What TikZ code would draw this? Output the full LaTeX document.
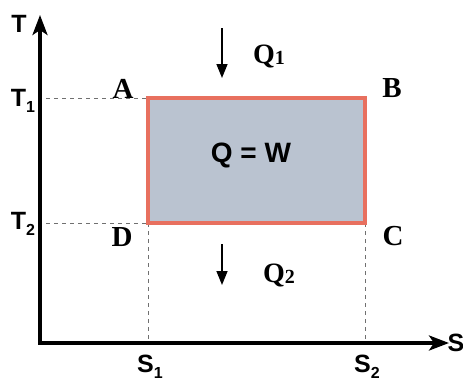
\documentclass[tikz,border=0pt]{standalone}
\usepackage{fontspec}
\setmainfont{Liberation Serif}
\setsansfont{Liberation Sans}
\usetikzlibrary{arrows.meta}
\definecolor{fillc}{HTML}{BAC3D0}
\definecolor{redc}{HTML}{E8705F}
\definecolor{dashc}{HTML}{707070}
\newcommand\mysub[3]{\raisebox{-#2}{\fontsize{#3}{#3}\selectfont #1}}
\begin{document}
\begin{tikzpicture}[x=1pt,y=-1pt,
  axis/.style={line width=3.4pt,black},
  guide/.style={dashc,line width=0.8pt,dash pattern=on 4pt off 4pt},
  corner/.style={font=\fontsize{29}{29}\selectfont\bfseries\rmfamily},
  axlab/.style={font=\fontsize{25}{25}\selectfont\bfseries\sffamily},
  heat/.style={font=\fontsize{28}{28}\selectfont\bfseries\rmfamily},
  flow/.style={line width=1.5pt,-{Triangle[length=14pt,width=11pt]}}]
\useasboundingbox (0,0) rectangle (463,381);
\fill[white] (0,0) rectangle (463,381);
% key points
\coordinate (O) at (40,343);
\coordinate (Ttop) at (40,15);
\coordinate (Send) at (449,343);
\coordinate (pA) at (148,98);
\coordinate (pB) at (365,98);
\coordinate (pC) at (365,223);
\coordinate (pD) at (148,223);
\coordinate (t1) at (46,98);
\coordinate (t2) at (46,223);
\coordinate (s1) at (148,341);
\coordinate (s2) at (365,341);
% cycle
\fill[fillc] (pA) rectangle (pC);
\draw[guide] (t1) -- (pA);
\draw[guide] (t2) -- (pD);
\draw[guide] (pD) -- (s1);
\draw[guide] (pC) -- (s2);
\draw[redc,line width=3.4pt] (pA) -- (pB) -- (pC) -- (pD) -- cycle;
% axes
\draw[axis,line join=miter,{Stealth[length=20pt,width=15pt,inset=5pt]}-{Stealth[length=20pt,width=15pt,inset=5pt]}] (Ttop) -- (O) -- (Send);
% labels
\node[axlab] (lT) at (19,24) {T};
\node[axlab,anchor=base] (lT1) at (23,106) {T\mysub{1}{6pt}{16}};
\node[axlab,anchor=base] (lT2) at (23,229) {T\mysub{2}{6pt}{16}};
\node[axlab,anchor=base] (lS1) at (150,372) {S\mysub{1}{6pt}{16}};
\node[axlab,anchor=base] (lS2) at (367,372) {S\mysub{2}{6pt}{16}};
\node[axlab] (lS) at (456,343) {S};
\node[corner] (lA) at (123,89) {A};
\node[corner] (lB) at (392,88) {B};
\node[corner] (lC) at (393,236) {C};
\node[corner] (lD) at (122,237) {D};
\node[font=\fontsize{28}{28}\selectfont\bfseries\sffamily] (lQW) at (251,155) {Q = W};
% heat flows
\coordinate (q1s) at (222,28);
\coordinate (q1e) at (222,78);
\coordinate (q2s) at (222,244);
\coordinate (q2e) at (222,285);
\draw[flow] (q1s) -- (q1e);
\draw[flow] (q2s) -- (q2e);
\node[heat,anchor=base] (lQ1) at (269,63) {Q\mysub{1}{1pt}{20}};
\node[heat,anchor=base] (lQ2) at (279,282) {Q\mysub{2}{1pt}{20}};
\end{tikzpicture}
\end{document}
